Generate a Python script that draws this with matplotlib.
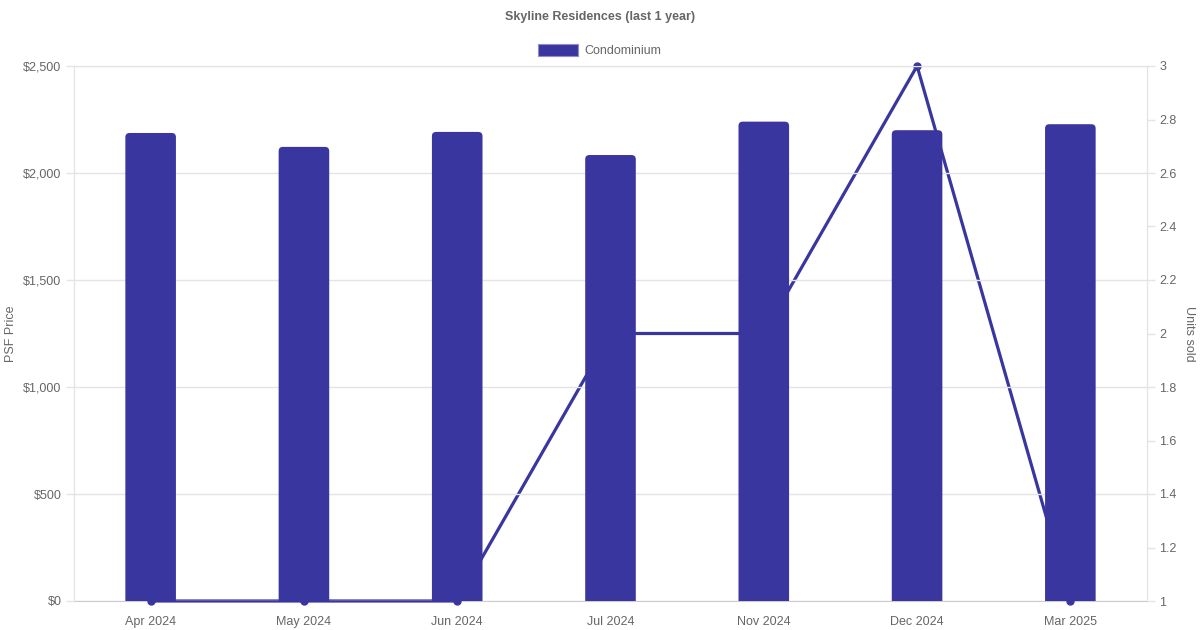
import matplotlib.pyplot as plt
import matplotlib.patches as mpatches
from matplotlib.ticker import FuncFormatter, MultipleLocator

plt.rcParams['font.family'] = ['Liberation Sans', 'DejaVu Sans']

months = ['Apr 2024', 'May 2024', 'Jun 2024', 'Jul 2024', 'Nov 2024', 'Dec 2024', 'Mar 2025']
psf_price = [2187, 2122, 2192, 2084, 2240, 2200, 2228]
units_sold = [1, 1, 1, 2, 2, 3, 1]

bar_col = '#3a36a0'
txt = '#666666'
grid = '#e4e4e4'

fig = plt.figure(figsize=(12, 6.3), dpi=100)
ax = fig.add_axes([74 / 1200, 29 / 630, 1073 / 1200, 535 / 630])
ax2 = ax.twinx()

# bars in front of the line
ax.set_zorder(ax2.get_zorder() + 1)
ax.patch.set_visible(False)

x = list(range(len(months)))
bars = ax.bar(x, psf_price, width=0.33, color=bar_col)
# rounded tops
for b in bars:
    b.set_visible(False)
    r = 0.028
    fb = mpatches.FancyBboxPatch((b.get_x(), -40), b.get_width(), b.get_height() + 40,
                                 boxstyle='round,pad=0,rounding_size=%f' % r,
                                 mutation_aspect=700, facecolor=bar_col, edgecolor='none')
    ax.add_patch(fb)

ax2.plot(x, units_sold, color=bar_col, lw=2.3, marker='o', ms=5, clip_on=False, zorder=3)

ax.set_xlim(-0.5, len(months) - 0.5)
ax.set_ylim(0, 2500)
ax2.set_ylim(1, 3)
ax.yaxis.set_major_locator(MultipleLocator(500))
ax.yaxis.set_major_formatter(FuncFormatter(lambda v, p: '${:,.0f}'.format(v)))
ax2.yaxis.set_major_locator(MultipleLocator(0.2))
ax2.yaxis.set_major_formatter(FuncFormatter(lambda v, p: '{:g}'.format(round(v, 1))))

ax.set_xticks(x)
ax.set_xticklabels(months)
ax.grid(axis='y', color=grid, lw=1)
ax.set_axisbelow(True)

for a in (ax, ax2):
    a.tick_params(colors=txt, labelsize=9, length=6, width=1, pad=3)
    a.tick_params(axis='both', color=grid)
    for s in a.spines.values():
        s.set_color(grid)
ax.tick_params(axis='x', length=0, pad=11)
ax.spines['bottom'].set_visible(False)
ax2.spines['bottom'].set_color('#cccccc')

ax.set_ylabel('PSF Price', color=txt, fontsize=9, va='center')
ax.yaxis.set_label_coords((11 - 74) / 1073, 0.5)
ax2.set_ylabel('Units sold', color=txt, fontsize=9, rotation=-90, va='center')
ax2.yaxis.set_label_coords((1189 - 74) / 1073, 0.5)

fig.text(0.5, 1 - 17 / 630, 'Skyline Residences (last 1 year)', ha='center', va='center',
         color=txt, fontsize=9, fontweight='bold')

fig.patches.append(mpatches.Rectangle((538 / 1200, 1 - 56 / 630), 40 / 1200, 12 / 630,
                                      transform=fig.transFigure, facecolor=bar_col,
                                      edgecolor='#8f8cd0', lw=0.8))
fig.text(584 / 1200, 1 - 51 / 630, 'Condominium', ha='left', va='center', color=txt, fontsize=9)

fig.savefig('out.png', dpi=100)
